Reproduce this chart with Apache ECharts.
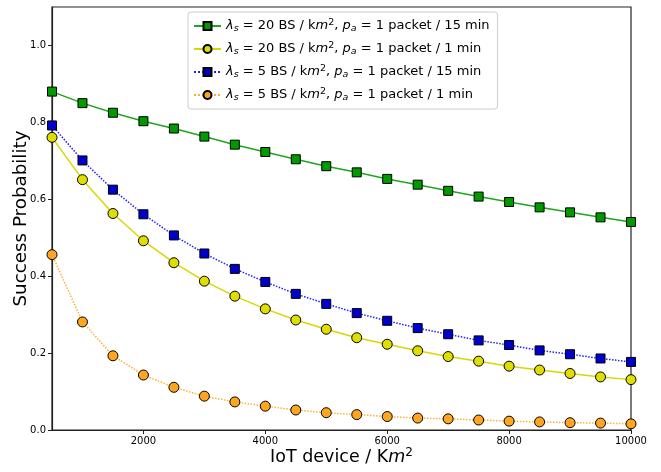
<!DOCTYPE html>
<html><head><meta charset="utf-8">
<script src="https://cdn.jsdelivr.net/npm/echarts@6/dist/echarts.min.js"></script>
<style>html,body{margin:0;padding:0;background:#fff}#c{width:661px;height:472px}</style>
</head><body><div id="c"></div>
<script>
const devices = [500,1000,1500,2000,2500,3000,3500,4000,4500,5000,5500,6000,6500,7000,7500,8000,8500,9000,9500,10000];
const green20_15 = [0.880,0.850,0.825,0.803,0.784,0.763,0.742,0.723,0.704,0.686,0.670,0.653,0.638,0.622,0.607,0.593,0.579,0.566,0.553,0.541];
const yellow20_1 = [0.761,0.651,0.563,0.492,0.435,0.387,0.348,0.315,0.286,0.262,0.240,0.223,0.206,0.191,0.179,0.166,0.156,0.147,0.138,0.131];
const blue5_15 = [0.792,0.701,0.625,0.561,0.506,0.459,0.419,0.385,0.354,0.328,0.304,0.284,0.265,0.249,0.233,0.221,0.207,0.197,0.186,0.177];
const orange5_1 = [0.456,0.281,0.193,0.143,0.111,0.088,0.073,0.062,0.052,0.045,0.040,0.035,0.031,0.029,0.026,0.023,0.021,0.019,0.018,0.016];
const xTicks = [2000,4000,6000,8000,10000];
const yTicks = [0,0.2,0.4,0.6,0.8,1.0];
const legendNames = ['s1','s2','s3','s4'];
const legendDensity = ['20','20','5','5'];
const legendPeriod = ['15','1','15','1'];

const pairs = a => devices.map((x,i)=>[x,a[i]]);
const chart = echarts.init(document.getElementById('c'));
const mkSeries = (name, data, lineColor, fill, sym, size, type) => ({
  name, type:'line', data: pairs(data), symbol: sym, symbolSize: size,
  lineStyle:{color: lineColor, width: 1.5, type: type},
  itemStyle:{color: fill, borderColor:'#000', borderWidth:1},
  emphasis:{disabled:true}, animation:false, clip:true, z:3
});
const FS = 13;
const rich = {
  n:{fontFamily:'DejaVu Sans', fontSize:FS, color:'#000'},
  it:{fontFamily:'DejaVu Sans', fontStyle:'italic', fontSize:FS, color:'#000'},
  sub:{fontFamily:'DejaVu Sans', fontStyle:'italic', fontSize:9.5, color:'#000', verticalAlign:'bottom', padding:[6,0,0,0]},
  sup:{fontFamily:'DejaVu Sans', fontSize:9.5, color:'#000', verticalAlign:'top', padding:[0,0,6,0]}
};
chart.setOption({
  backgroundColor:'#fff',
  animation:false,
  grid:{left:52, right:30, top:7, bottom:42, show:true, borderColor:'#222', borderWidth:1.2, containLabel:false, outerBoundsMode:'none'},
  legend:{
    data: legendNames, top:12, left:188, orient:'vertical', itemGap:7, itemWidth:27, itemHeight:10,
    backgroundColor:'rgba(255,255,255,0.85)', borderColor:'#ccc', borderWidth:1, borderRadius:3,
    padding:[6,8,6,5],
    formatter: name => {
      const i = legendNames.indexOf(name);
      return '{it|λ}{sub|s}{n| = '+legendDensity[i]+' BS / k}{it|m}{sup|2}{n|, }{it|p}{sub|a}{n| = 1 packet / '+legendPeriod[i]+' min}';
    },
    textStyle:{rich: rich}
  },
  xAxis:{type:'value', min:500, max:10000,
    name:'{n|IoT device / K}{it|m}{sup|2}', nameLocation:'middle', nameGap:17, nameMoveOverlap:false,
    nameTextStyle:{fontFamily:'DejaVu Sans', fontSize:17.5, color:'#000',
      rich:{n:{fontFamily:'DejaVu Sans', fontSize:17.5, color:'#000'},
            it:{fontFamily:'DejaVu Sans', fontStyle:'italic', fontSize:17.5, color:'#000'},
            sup:{fontFamily:'DejaVu Sans', fontSize:12, color:'#000', verticalAlign:'top', padding:[0,0,8,0]}}},
    axisLine:{show:true, lineStyle:{color:'#222', width:1.2}},
    axisTick:{show:true, length:4, inside:false, customValues:xTicks, lineStyle:{color:'#222'}},
    axisLabel:{customValues:xTicks, formatter:v=>String(v), fontFamily:'DejaVu Sans', fontSize:10, color:'#000', margin:6},
    splitLine:{show:false}},
  yAxis:{type:'value', min:0, max:1.1,
    name:'Success Probability', nameLocation:'middle', nameGap:22, nameMoveOverlap:false,
    nameTextStyle:{fontFamily:'DejaVu Sans', fontSize:18.3, color:'#000', verticalAlign:'bottom'},
    axisLine:{show:true, lineStyle:{color:'#222', width:1.2}},
    axisTick:{show:true, length:4, customValues:yTicks, lineStyle:{color:'#222'}},
    axisLabel:{customValues:yTicks, formatter:v=>v.toFixed(1), fontFamily:'DejaVu Sans', fontSize:10, color:'#000', margin:6},
    splitLine:{show:false}},
  series:[
    mkSeries('s1', green20_15, '#1fa51f', '#009900', 'rect', 9, 'solid'),
    mkSeries('s2', yellow20_1, '#d8d800', '#dede00', 'circle', 10, 'solid'),
    mkSeries('s3', blue5_15, '#2020ff', '#0000cc', 'rect', 9, 'dotted'),
    mkSeries('s4', orange5_1, '#ffb030', '#ffa520', 'circle', 10, 'dotted')
  ]
});
</script></body></html>
